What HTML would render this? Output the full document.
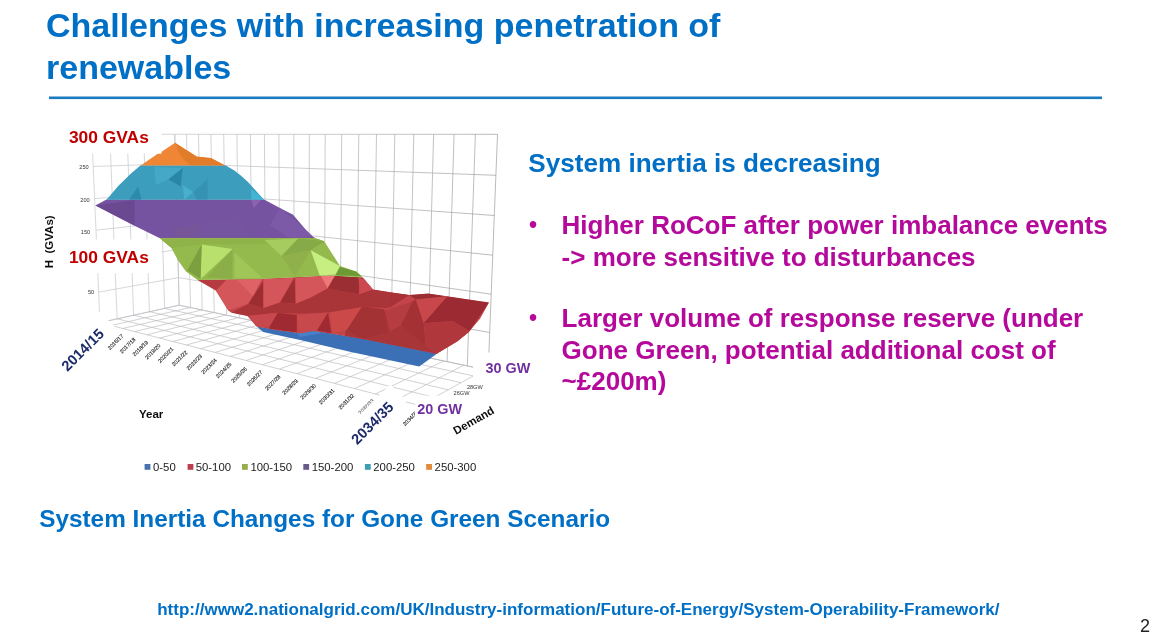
<!DOCTYPE html>
<html><head><meta charset="utf-8"><title>Challenges with increasing penetration of renewables</title>
<style>
html,body{margin:0;padding:0;background:#fff;}
body{width:1157px;height:640px;position:relative;overflow:hidden;font-family:"Liberation Sans",sans-serif;}
svg{position:absolute;left:0;top:0}
svg text{font-family:"Liberation Sans",sans-serif}
.sm{font-size:5.4px;fill:#111;stroke:#111;stroke-width:0.12px}
.tk{font-size:5.6px;fill:#333;text-anchor:end}
.lg{font-size:11.35px;fill:#222}
.b{font-weight:bold}
.blue{fill:#006fc6}
.mag{fill:#b4099b}
</style></head><body>
<svg id="slide" width="1157" height="640" viewBox="0 0 1157 640">
<defs><linearGradient id="gg" gradientUnits="userSpaceOnUse" x1="90" y1="0" x2="500" y2="0"><stop offset="0" stop-color="#c8c8ce"/><stop offset="0.45" stop-color="#bcbcc2"/><stop offset="1" stop-color="#9c9ca2"/></linearGradient><filter id="bl" x="-5%" y="-5%" width="110%" height="110%"><feGaussianBlur stdDeviation="0.5"/></filter><filter id="bl3" x="-5%" y="-5%" width="110%" height="110%"><feGaussianBlur stdDeviation="0.7"/></filter><filter id="bl2" x="-5%" y="-5%" width="110%" height="110%"><feGaussianBlur stdDeviation="0.35"/></filter></defs>
<rect width="1157" height="640" fill="#fff"/>
<g id="chart" filter="url(#bl)">
<g stroke="url(#gg)" stroke-width="0.7" fill="none">
<line x1="179.2" y1="305.2" x2="174.8" y2="134.3"/>
<line x1="190.5" y1="307.6" x2="186.5" y2="134.3"/>
<line x1="202.2" y1="310.0" x2="198.5" y2="134.3"/>
<line x1="214.2" y1="312.6" x2="210.9" y2="134.3"/>
<line x1="226.6" y1="315.2" x2="223.7" y2="134.3"/>
<line x1="239.3" y1="317.9" x2="236.9" y2="134.3"/>
<line x1="252.4" y1="320.6" x2="250.4" y2="134.3"/>
<line x1="265.9" y1="323.5" x2="264.4" y2="134.3"/>
<line x1="279.8" y1="326.4" x2="278.9" y2="134.3"/>
<line x1="294.2" y1="329.4" x2="293.8" y2="134.3"/>
<line x1="309.0" y1="332.5" x2="309.3" y2="134.3"/>
<line x1="324.3" y1="335.8" x2="325.2" y2="134.3"/>
<line x1="340.1" y1="339.1" x2="341.7" y2="134.3"/>
<line x1="356.4" y1="342.5" x2="358.8" y2="134.3"/>
<line x1="373.3" y1="346.1" x2="376.5" y2="134.3"/>
<line x1="390.8" y1="349.8" x2="394.8" y2="134.3"/>
<line x1="408.9" y1="353.6" x2="413.8" y2="134.3"/>
<line x1="427.7" y1="357.5" x2="433.6" y2="134.3"/>
<line x1="447.1" y1="361.6" x2="454.1" y2="134.3"/>
<line x1="467.3" y1="365.9" x2="475.4" y2="134.3"/>
<line x1="488.2" y1="370.3" x2="497.5" y2="134.3"/>
<line x1="100.0" y1="322.6" x2="91.8" y2="134.0"/>
<line x1="117.1" y1="318.8" x2="109.8" y2="134.1"/>
<line x1="133.6" y1="315.2" x2="127.1" y2="134.1"/>
<line x1="149.4" y1="311.8" x2="143.6" y2="134.2"/>
<line x1="164.6" y1="308.4" x2="159.5" y2="134.2"/>
<line x1="179.2" y1="305.2" x2="174.8" y2="134.3"/>
<line x1="179.2" y1="305.2" x2="488.2" y2="370.3"/>
<line x1="100.0" y1="322.6" x2="179.2" y2="305.2"/>
<line x1="178.5" y1="277.5" x2="489.7" y2="332.5"/>
<line x1="98.7" y1="292.2" x2="178.5" y2="277.6"/>
<line x1="177.8" y1="249.6" x2="491.2" y2="294.2"/>
<line x1="97.3" y1="261.4" x2="177.8" y2="249.6"/>
<line x1="177.0" y1="221.3" x2="492.7" y2="255.2"/>
<line x1="96.0" y1="230.2" x2="177.0" y2="221.3"/>
<line x1="176.3" y1="192.6" x2="494.3" y2="215.5"/>
<line x1="94.6" y1="198.6" x2="176.3" y2="192.7"/>
<line x1="175.6" y1="163.6" x2="495.9" y2="175.3"/>
<line x1="93.2" y1="166.5" x2="175.6" y2="163.7"/>
<line x1="174.8" y1="134.3" x2="497.5" y2="134.3"/>
<line x1="91.8" y1="134.0" x2="174.8" y2="134.3"/>
</g>
<g stroke="#bdbdc2" stroke-width="0.7" fill="none">
<line x1="100.0" y1="322.6" x2="179.2" y2="305.2"/>
<line x1="111.2" y1="325.5" x2="190.3" y2="307.5"/>
<line x1="122.7" y1="328.5" x2="201.8" y2="310.0"/>
<line x1="134.6" y1="331.6" x2="213.6" y2="312.5"/>
<line x1="146.9" y1="334.8" x2="225.8" y2="315.0"/>
<line x1="159.6" y1="338.1" x2="238.3" y2="317.7"/>
<line x1="172.8" y1="341.5" x2="251.2" y2="320.4"/>
<line x1="186.4" y1="345.0" x2="264.5" y2="323.2"/>
<line x1="200.5" y1="348.7" x2="278.2" y2="326.1"/>
<line x1="215.1" y1="352.4" x2="292.4" y2="329.1"/>
<line x1="230.3" y1="356.4" x2="307.0" y2="332.1"/>
<line x1="246.0" y1="360.5" x2="322.1" y2="335.3"/>
<line x1="262.4" y1="364.7" x2="337.8" y2="338.6"/>
<line x1="279.4" y1="369.1" x2="353.9" y2="342.0"/>
<line x1="297.0" y1="373.7" x2="370.7" y2="345.6"/>
<line x1="315.4" y1="378.4" x2="388.0" y2="349.2"/>
<line x1="334.5" y1="383.4" x2="405.9" y2="353.0"/>
<line x1="354.5" y1="388.6" x2="424.5" y2="356.9"/>
<line x1="375.3" y1="394.0" x2="443.8" y2="361.0"/>
<line x1="397.1" y1="399.6" x2="463.9" y2="365.2"/>
<line x1="419.8" y1="405.5" x2="484.7" y2="369.6"/>
<line x1="100.0" y1="322.6" x2="419.8" y2="405.5"/>
<line x1="117.2" y1="318.8" x2="434.4" y2="397.4"/>
<line x1="133.7" y1="315.2" x2="448.2" y2="389.8"/>
<line x1="149.5" y1="311.7" x2="461.1" y2="382.7"/>
<line x1="164.7" y1="308.4" x2="473.2" y2="375.9"/>
<line x1="179.2" y1="305.2" x2="484.7" y2="369.6"/>
</g>
</g><g id="surf" filter="url(#bl3)">
<clipPath id="cr"><polygon points="197.5,279.8 260.0,278.8 330.0,275.4 363.0,277.4 373.1,289.6 390.0,292.3 409.1,295.1 428.2,293.4 489.0,302.4 480.0,318.7 468.7,332.2 457.5,341.2 437.2,353.6 437.2,354.0 363.0,339.0 331.5,333.8 313.5,331.0 300.0,333.2 275.0,329.9 256.4,326.4 247.4,316.1 231.6,312.7 228.2,310.5 215.9,290.8"/></clipPath>
<clipPath id="cg"><polygon points="159.4,237.9 315.0,237.9 324.2,241.2 340.0,266.0 356.3,271.6 361.4,276.1 363.0,277.6 330.0,275.6 260.0,279.0 197.5,280.0 186.0,271.6 178.1,260.4 171.4,248.0"/></clipPath>
<clipPath id="cc"><polygon points="140.7,165.3 225.3,165.3 234.0,170.2 241.4,176.0 248.0,182.0 253.8,188.4 264.0,199.8 106.5,199.8 118.2,186.1 131.0,173.6"/></clipPath>
<clipPath id="cp"><polygon points="106.5,199.6 264.0,199.6 280.0,208.0 293.1,214.7 306.0,230.0 313.0,236.7 315.5,238.1 159.4,238.1 134.5,225.8 95.3,205.4"/></clipPath>
<clipPath id="co"><polygon points="140.7,165.5 157.7,153.7 161.2,151.9 175.1,142.8 196.8,156.4 211.1,158.1 225.3,165.5"/></clipPath>
<polygon points="256.4,326.2 275.0,329.5 300.0,332.9 313.5,330.6 331.5,333.4 363.0,338.5 437.2,353.6 419.2,366.4 351.0,351.9 299.1,339.8 263.1,331.9" fill="#3a6fb7"/>
<polygon points="296.9,332.4 313.5,330.6 322.0,333.0 300.0,337.0" fill="#4a80c8"/>
<polygon points="197.5,279.8 260.0,278.8 330.0,275.4 363.0,277.4 373.1,289.6 390.0,292.3 409.1,295.1 428.2,293.4 489.0,302.4 480.0,318.7 468.7,332.2 457.5,341.2 437.2,353.6 437.2,354.0 363.0,339.0 331.5,333.8 313.5,331.0 300.0,333.2 275.0,329.9 256.4,326.4 247.4,316.1 231.6,312.7 228.2,310.5 215.9,290.8" fill="#c3454a"/><g clip-path="url(#cr)"><polygon points="350.0,300.0 401.2,318.7 426.0,345.7 437.2,354.0 345.0,336.0" fill="#a83439"/><polygon points="196.7,280.1 227.1,280.1 217.0,290.2" fill="#b53a40"/><polygon points="227.1,279.0 262.0,278.5 248.5,303.7 228.2,310.5 215.9,290.8" fill="#d4555a"/><polygon points="237.0,280.0 262.0,279.0 253.0,296.0" fill="#de6266"/><polygon points="263.1,281.2 248.5,303.7 263.1,308.2" fill="#9c2e32"/><polygon points="263.5,279.0 293.5,278.0 280.0,302.6 263.5,308.2" fill="#d4555a"/><polygon points="294.6,277.9 280.0,302.6 295.7,303.7" fill="#9c2e32"/><polygon points="295.5,278.0 321.0,276.2 327.6,288.5 310.0,298.0 295.7,303.7" fill="#d4555a"/><polygon points="320.9,276.1 335.5,275.0 327.6,288.5" fill="#ee7878"/><polygon points="335.5,275.0 362.5,277.2 358.5,294.6 327.6,288.5" fill="#9a2f33"/><polygon points="358.5,277.5 365.2,280.0 373.1,289.6 359.6,294.6" fill="#cc4a50"/><polygon points="231.6,312.7 248.5,303.7 263.1,308.2 280.0,302.6 295.7,303.7 310.0,298.0 327.6,288.5 358.5,294.6 373.1,289.6 410.2,294.6 387.7,308.1 361.9,307.0 328.1,312.6 300.0,313.7 277.7,312.7 247.4,316.1" fill="#aa3439"/><polygon points="247.4,316.1 277.7,312.7 268.7,326.2 257.5,326.2" fill="#c8484e"/><polygon points="277.7,312.7 296.9,315.0 296.9,332.4 268.7,328.5" fill="#a02c30"/><polygon points="296.9,315.0 328.1,312.6 316.9,330.6 300.0,333.0" fill="#c8484c"/><polygon points="328.1,312.6 316.9,330.6 331.5,333.4" fill="#a02c30"/><polygon points="330.4,312.6 361.9,307.0 347.2,329.5 332.6,333.4" fill="#cc4a4a"/><polygon points="361.9,307.0 384.4,309.2 387.7,331.7 363.0,338.5 347.2,329.5" fill="#a33035"/><polygon points="384.4,310.4 412.5,301.4 401.2,325.0 390.0,331.7" fill="#b53c40"/><polygon points="412.5,301.4 415.9,299.6 423.7,323.2 426.0,345.7 401.2,325.0" fill="#a43034"/><polygon points="390.0,293.0 409.1,295.1 390.0,307.5" fill="#a83238"/><polygon points="409.1,295.1 428.2,293.4 447.4,296.2 415.9,299.6" fill="#9a2e30"/><polygon points="415.9,299.6 447.4,296.2 423.7,323.2" fill="#c8474b"/><polygon points="447.4,296.2 489.0,302.4 468.7,332.2 453.0,321.0 423.7,323.2" fill="#9c2c30"/><polygon points="423.7,323.2 453.0,321.0 470.0,331.0 457.5,342.0 437.2,354.0 426.0,345.7" fill="#b0383c"/></g>
<polygon points="159.4,237.9 315.0,237.9 324.2,241.2 340.0,266.0 356.3,271.6 361.4,276.1 363.0,277.6 330.0,275.6 260.0,279.0 197.5,280.0 186.0,271.6 178.1,260.4 171.4,248.0" fill="#94ba4e"/><g clip-path="url(#cg)"><polygon points="159.4,238.4 324.0,238.4 324.0,244.5 201.7,244.6 171.4,248.0" fill="#8fb349"/><polygon points="201.7,244.6 232.7,249.1 200.6,278.9" fill="#b8e06c"/><polygon points="201.7,244.6 187.1,270.5 200.6,278.9" fill="#7c9f41"/><polygon points="232.7,249.1 206.2,277.5 232.1,278.4" fill="#8bae49"/><polygon points="234.4,252.5 262.5,278.0 234.4,278.5" fill="#a0c658"/><polygon points="264.6,240.1 298.4,238.6 281.5,255.9" fill="#a6cc5e"/><polygon points="298.4,238.6 324.2,241.2 310.7,250.2 281.5,255.9" fill="#86aa46"/><polygon points="281.5,255.9 310.7,250.2 295.0,276.6" fill="#8fb04c"/><polygon points="310.7,250.2 340.0,266.0 335.5,274.4 319.7,275.5" fill="#c6ee80"/><polygon points="340.0,267.1 356.3,271.6 361.4,276.1 335.5,275.3" fill="#6d9a35"/></g>
<polygon points="106.5,199.6 264.0,199.6 280.0,208.0 293.1,214.7 306.0,230.0 313.0,236.7 315.5,238.1 159.4,238.1 134.5,225.8 95.3,205.4" fill="#7653a0"/><g clip-path="url(#cp)"><polygon points="95.3,205.4 134.5,200.0 134.5,225.8" fill="#6a4a90"/><polygon points="251.1,200.0 261.0,200.0 253.8,208.0" fill="#8a62b0"/><polygon points="173.7,227.6 200.4,224.0 196.8,238.4 173.7,238.4" fill="#775599"/><polygon points="200.4,224.0 240.0,215.0 250.0,238.4 196.8,238.4" fill="#7654a0"/><polygon points="280.0,208.0 306.0,230.0 313.0,236.7 290.0,238.4 270.0,225.0" fill="#7d5aa8"/></g>
<polygon points="140.7,165.3 225.3,165.3 234.0,170.2 241.4,176.0 248.0,182.0 253.8,188.4 264.0,199.8 106.5,199.8 118.2,186.1 131.0,173.6" fill="#3c9dbd"/><g clip-path="url(#cc)"><polygon points="138.1,186.6 129.2,199.8 141.6,199.8" fill="#2f8aaa"/><polygon points="154.1,167.0 182.6,168.0 168.3,179.5 155.9,184.9" fill="#45a8c6"/><polygon points="182.6,168.0 168.3,179.5 180.8,186.6" fill="#2c86a6"/><polygon points="182.6,184.9 193.3,192.0 184.4,199.8" fill="#48b0cc"/><polygon points="193.3,192.0 207.5,179.5 207.5,199.8 196.8,199.8" fill="#3492b2"/><polygon points="251.1,188.4 264.0,199.8 251.1,199.8" fill="#42b4d4"/></g>
<polygon points="140.7,165.5 157.7,153.7 161.2,151.9 175.1,142.8 196.8,156.4 211.1,158.1 225.3,165.5" fill="#ee8636"/><g clip-path="url(#co)"><polygon points="175.1,142.8 196.8,156.4 211.1,158.1 225.3,165.5 190.0,165.5 180.0,155.0" fill="#e07c2c"/></g>
</g><g filter="url(#bl)">
<g><text transform="translate(123.8,336.4) rotate(-45)" text-anchor="end" class="sm">2016/17</text>
<text transform="translate(135.9,339.9) rotate(-45)" text-anchor="end" class="sm">2017/18</text>
<text transform="translate(148.6,342.8) rotate(-45)" text-anchor="end" class="sm">2018/19</text>
<text transform="translate(161.0,345.9) rotate(-45)" text-anchor="end" class="sm">2019/20</text>
<text transform="translate(174.0,349.4) rotate(-45)" text-anchor="end" class="sm">2020/21</text>
<text transform="translate(187.8,352.8) rotate(-45)" text-anchor="end" class="sm">2021/22</text>
<text transform="translate(202.5,356.6) rotate(-45)" text-anchor="end" class="sm">2022/23</text>
<text transform="translate(217.2,360.6) rotate(-45)" text-anchor="end" class="sm">2023/24</text>
<text transform="translate(231.9,364.6) rotate(-45)" text-anchor="end" class="sm">2024/25</text>
<text transform="translate(247.3,369.3) rotate(-45)" text-anchor="end" class="sm">2025/26</text>
<text transform="translate(262.8,372.7) rotate(-45)" text-anchor="end" class="sm">2026/27</text>
<text transform="translate(281.0,377.0) rotate(-45)" text-anchor="end" class="sm">2027/28</text>
<text transform="translate(298.3,381.3) rotate(-45)" text-anchor="end" class="sm">2028/29</text>
<text transform="translate(316.4,386.0) rotate(-45)" text-anchor="end" class="sm">2029/30</text>
<text transform="translate(334.9,390.9) rotate(-45)" text-anchor="end" class="sm">2030/31</text>
<text transform="translate(354.5,396.0) rotate(-45)" text-anchor="end" class="sm">2031/32</text>
<text transform="translate(374.3,401.2) rotate(-45)" text-anchor="end" class="sm" opacity="0.65">2032/33</text>
<text transform="translate(405,426.3) rotate(-45)" class="sm">2034/35</text></g>
<text x="88.7" y="169" class="tk">250</text>
<text x="89.7" y="202" class="tk">200</text>
<text x="90.2" y="233.6" class="tk">150</text>
<text x="94.2" y="294.3" class="tk">50</text>
<text x="466.9" y="388.8" class="tk" style="text-anchor:start">28GW</text>
<text x="453.6" y="395.4" class="tk" style="text-anchor:start">26GW</text>
</g>
<rect x="60" y="120" width="101.5" height="33.7" fill="#fff"/>
<rect x="60" y="239.5" width="101.5" height="33.7" fill="#fff"/>
<rect x="473" y="352.5" width="70" height="28.5" fill="#fff"/>
<rect x="415" y="395.7" width="60" height="26" fill="#fff"/>
<rect transform="translate(67.6,372.1) rotate(-45)" x="-14" y="-20" width="79.5" height="23.5" fill="#fff"/>
<rect transform="translate(358.2,444.6) rotate(-45)" x="-14" y="-20" width="79.5" height="23.5" fill="#fff"/>
<text x="68.9" y="142.5" class="b" font-size="17.4" fill="#c00000">300 GVAs</text>
<text x="68.9" y="262.8" class="b" font-size="17.4" fill="#c00000">100 GVAs</text>
<text transform="translate(67.6,372.1) rotate(-45)" class="b" font-size="14.6" fill="#1c2a6b">2014/15</text>
<text transform="translate(357.2,445.2) rotate(-45)" class="b" font-size="14.6" fill="#1c2a6b">2034/35</text>
<text x="485.5" y="372.8" class="b" font-size="14.4" fill="#7030a0">30 GW</text>
<text x="417.3" y="413.7" class="b" font-size="14.4" fill="#7030a0">20 GW</text>
<g filter="url(#bl2)">
<text transform="translate(53,268.2) rotate(-90)" class="b" font-size="11.5" fill="#111" xml:space="preserve">H  (GVAs)</text>
<text x="139" y="417.9" class="b" font-size="11.5" fill="#111">Year</text>
<text transform="translate(456,435) rotate(-29.7)" class="b" font-size="11.4" fill="#111">Demand</text>
<rect x="144.6" y="464" width="5.8" height="5.8" fill="#4a72b0"/><text x="153.0" y="470.6" class="lg">0-50</text>
<rect x="187.6" y="464" width="5.8" height="5.8" fill="#b8404f"/><text x="195.7" y="470.6" class="lg">50-100</text>
<rect x="242" y="464" width="5.8" height="5.8" fill="#94ad4e"/><text x="250.4" y="470.6" class="lg">100-150</text>
<rect x="303.3" y="464" width="5.8" height="5.8" fill="#6a5a8c"/><text x="311.7" y="470.6" class="lg">150-200</text>
<rect x="364.9" y="464" width="5.8" height="5.8" fill="#3f9cb2"/><text x="373.3" y="470.6" class="lg">200-250</text>
<rect x="426.2" y="464" width="5.8" height="5.8" fill="#e08a3c"/><text x="434.6" y="470.6" class="lg">250-300</text>
</g>
<g id="txt" class="b">
<text x="46" y="37.2" font-size="34" class="blue">Challenges with increasing penetration of</text>
<text x="46" y="78.5" font-size="34" class="blue">renewables</text>
<rect x="49" y="96.5" width="1053" height="2.6" fill="#1a7bbf"/>
<text x="528.3" y="172.1" font-size="26.1" class="blue">System inertia is decreasing</text>
<text x="529" y="232.7" font-size="23" class="mag">•</text>
<text x="561.6" y="234" font-size="26" class="mag">Higher RoCoF after power imbalance events</text>
<text x="561.6" y="265.5" font-size="26" class="mag">-&gt; more sensitive to disturbances</text>
<text x="529" y="326" font-size="23" class="mag">•</text>
<text x="561.6" y="327.3" font-size="26" class="mag">Larger volume of response reserve (under</text>
<text x="561.6" y="358.6" font-size="26" class="mag">Gone Green, potential additional cost of</text>
<text x="561.6" y="389.6" font-size="26" class="mag">~£200m)</text>
<text x="39.2" y="526.8" font-size="24.35" class="blue">System Inertia Changes for Gone Green Scenario</text>
<text x="157.2" y="614.5" font-size="17.03" class="blue">http://www2.nationalgrid.com/UK/Industry-information/Future-of-Energy/System-Operability-Framework/</text>
<text x="1139.9" y="631.9" font-size="18" fill="#222" font-weight="normal">2</text>
</g>
</svg>
</body></html>
